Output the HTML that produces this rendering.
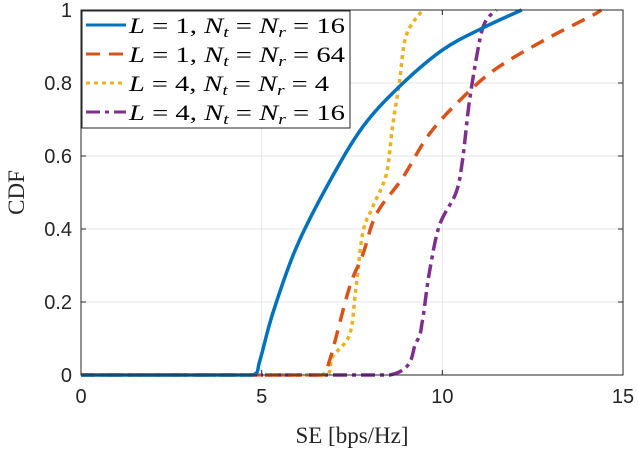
<!DOCTYPE html>
<html><head><meta charset="utf-8"><style>
body{margin:0;background:#fff}
svg{display:block}
.tk{font-family:"Liberation Sans",sans-serif;font-size:20px;fill:#262626}
.lb{font-family:"Liberation Serif",serif;font-size:23px;fill:#262626}
.lg{font-family:"Liberation Serif",serif;font-size:22px;fill:#000}
</style></head><body>
<svg id="chart" width="638" height="450"></svg>
<script>
const xTicks=[0,5,10,15];
const yTicks=[0,0.2,0.4,0.6,0.8,1];
const yTickLabels=['0','0.2','0.4','0.6','0.8','1'];
const seriesNames=['L = 1, Nt = Nr = 16','L = 1, Nt = Nr = 64','L = 4, Nt = Nr = 4','L = 4, Nt = Nr = 16'];
const s1x=[0,4.75,4.95,5.31,5.96,6.88,7.8,8.81,10,11.1,12.2];
const s1y=[0,0,0.04,0.17,0.35,0.53,0.68,0.79,0.89,0.95,1];
const s2x=[0,6.65,6.88,7.43,7.8,8.17,8.9,9.64,10.56,11.5,12.87,14.25,14.4];
const s2y=[0,0,0.04,0.24,0.33,0.44,0.54,0.66,0.76,0.84,0.92,0.99,1];
const s3x=[0,6.8,6.96,7.43,7.6,7.8,8.07,8.45,8.62,8.81,9.0,9.45];
const s3y=[0,0,0.05,0.11,0.23,0.39,0.46,0.55,0.68,0.8,0.93,1];
const s4x=[0,8.54,9.28,9.45,9.64,9.92,10.38,10.56,10.75,11.02,11.2,11.5];
const s4y=[0,0,0.09,0.15,0.28,0.41,0.5,0.59,0.75,0.91,0.97,1];
const L=81,R=623,T=10,B=375;
const X=v=>L+(v-0)/15*(R-L), Y=v=>B-v*(B-T);
const svg=document.getElementById('chart');const NS='http://www.w3.org/2000/svg';
function mk(t,a,p){const e=document.createElementNS(NS,t);for(const k in a)e.setAttribute(k,a[k]);(p||svg).appendChild(e);return e;}
const cl=(v,a,b)=>Math.max(Math.min(a,b),Math.min(Math.max(a,b),v));
function smooth(pts){
 let d='M'+pts[0][0].toFixed(1)+','+pts[0][1].toFixed(1);
 for(let i=0;i<pts.length-1;i++){
  const p1=pts[i],p2=pts[i+1];
  if(i===0){d+='L'+p2[0].toFixed(1)+','+p2[1].toFixed(1);continue;}
  const p0=pts[i-1],p3=pts[Math.min(pts.length-1,i+2)];
  let c1=[p1[0]+(p2[0]-p0[0])/6,p1[1]+(p2[1]-p0[1])/6];
  let c2=[p2[0]-(p3[0]-p1[0])/6,p2[1]-(p3[1]-p1[1])/6];
  c1=[cl(c1[0],p1[0],p2[0]),cl(c1[1],p1[1],p2[1])];
  c2=[cl(c2[0],p1[0],p2[0]),cl(c2[1],p1[1],p2[1])];
  d+='C'+c1[0].toFixed(1)+','+c1[1].toFixed(1)+' '+c2[0].toFixed(1)+','+c2[1].toFixed(1)+' '+p2[0].toFixed(1)+','+p2[1].toFixed(1);
 }
 return d;
}
let e=mk('rect',{x:L,y:T,width:R-L,height:B-T,fill:'#fff'});


xTicks.forEach(v=>{
 let g=mk('line',{x1:X(v),x2:X(v),y1:T,y2:B,stroke:'#e6e6e6','stroke-width':1});
 
 
 mk('line',{x1:X(v),x2:X(v),y1:B,y2:B-5,stroke:'#262626'});
 mk('line',{x1:X(v),x2:X(v),y1:T,y2:T+5,stroke:'#262626'});
 let t=mk('text',{x:X(v),y:B+28,'text-anchor':'middle',class:'tk'});t.textContent=v;
 
 
});
yTicks.forEach((v,i)=>{
 let g=mk('line',{x1:L,x2:R,y1:Y(v),y2:Y(v),stroke:'#e6e6e6','stroke-width':1});
 
 
 mk('line',{x1:L,x2:L+5,y1:Y(v),y2:Y(v),stroke:'#262626'});
 mk('line',{x1:R,x2:R-5,y1:Y(v),y2:Y(v),stroke:'#262626'});
 let t=mk('text',{x:L-9,y:Y(v)+7,'text-anchor':'end',class:'tk'});t.textContent=yTickLabels[i];
 
 
});
const styles=[{c:'#0072bd',d:'',n:'series-l1-n16'},{c:'#d95319',d:'14 9',n:'series-l1-n64'},{c:'#edb120',d:'4 4',n:'series-l4-n4'},{c:'#7e2f8e',d:'14 5 4 5',n:'series-l4-n16'}];
const xs=[s1x,s2x,s3x,s4x],ys=[s1y,s2y,s3y,s4y];
[3,2,1,0].forEach(i=>{
 const pts=xs[i].map((v,j)=>[X(v),Y(ys[i][j])]);
 let p=mk('path',{d:smooth(pts),fill:'none',stroke:styles[i].c,'stroke-width':3.5,'stroke-dasharray':styles[i].d,'stroke-linejoin':'round'});
 
 
});
e=mk('rect',{x:L,y:T,width:R-L,height:B-T,fill:'none',stroke:'#262626','stroke-width':1});


let lg=mk('g',{});


mk('rect',{x:82,y:11,width:268,height:117,fill:'#fff',stroke:'#262626','stroke-width':1},lg);
const labs=[['1','16'],['1','64'],['4','4'],['4','16']];
labs.forEach((l,i)=>{
 const y=25+i*29;
 mk('line',{x1:86,x2:126,y1:y,y2:y,stroke:styles[i].c,'stroke-width':3,'stroke-dasharray':styles[i].d},lg);
 let t=mk('text',{x:129,y:y+8,class:'lg',textLength:l[1].length>1?216:200,lengthAdjust:'spacingAndGlyphs'},lg);
 t.innerHTML='<tspan font-style="italic">L</tspan> = '+l[0]+', <tspan font-style="italic">N</tspan><tspan font-style="italic" font-size="15" dy="4">t</tspan><tspan dy="-4"> = </tspan><tspan font-style="italic">N</tspan><tspan font-style="italic" font-size="15" dy="4">r</tspan><tspan dy="-4"> = '+l[1]+'</tspan>';
 
 
});
let xl=mk('text',{x:(L+R)/2,y:443,'text-anchor':'middle',class:'lb'});xl.textContent='SE [bps/Hz]';


let yl=mk('text',{x:0,y:0,'text-anchor':'middle',class:'lb',transform:'translate(24,'+((T+B)/2)+') rotate(-90)'});yl.textContent='CDF';


</script>
</body></html>
